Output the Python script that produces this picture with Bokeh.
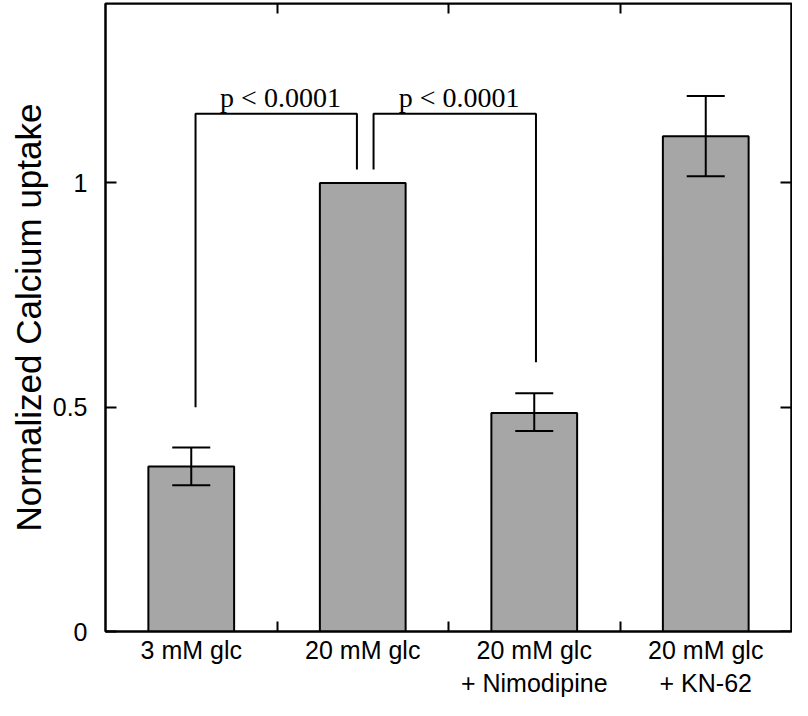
from bokeh.plotting import figure
from bokeh.models import FixedTicker, LinearAxis, Range1d, Whisker, ColumnDataSource, TeeHead
from bokeh.core.properties import value
from bokeh.embed import file_html
from bokeh.resources import INLINE

# ---- data ----
categories = ["3 mM glc", "20 mM glc", "20 mM glc\n+ Nimodipine", "20 mM glc\n+ KN-62"]
means = [0.368, 1.0, 0.487, 1.104]
err_upper = [0.410, None, 0.531, 1.194]
err_lower = [0.326, None, 0.447, 1.015]
y_ticks = [0, 0.5, 1]
y_tick_labels = ["0", "0.5", "1"]
p_labels = ["p < 0.0001", "p < 0.0001"]
bracket_pairs = [(0, 1), (1, 2)]
bracket_top = 1.154
bracket_leg_bottoms = [(0.50, 1.03), (1.03, 0.60)]
bracket_leg_offsets = [(0.025, -0.034), (0.063, 0.01)]
p_label_y = 1.19

FONT = "Liberation Sans"
xc = [i + 0.5 for i in range(len(categories))]
bounds = [1, 2, 3]
X_MAX, Y_MAX = 4, 1.4

p = figure(width=792, height=700, x_range=Range1d(0, X_MAX), y_range=Range1d(0, Y_MAX),
           output_backend="svg", toolbar_location=None,
           x_axis_location=None, y_axis_location=None,
           min_border_left=105, min_border_right=1, min_border_top=3, min_border_bottom=60)
p.grid.visible = False
p.outline_line_color = "black"
p.outline_line_width = 2
p.background_fill_color = "white"
p.border_fill_color = "white"

# bars
src = ColumnDataSource(dict(x=xc, top=means))
p.vbar(x="x", top="top", width=0.5, bottom=0, source=src,
       fill_color="#a6a6a6", line_color="black", line_width=2)

# error bars
ex = [x for x, u in zip(xc, err_upper) if u is not None]
eu = [u for u in err_upper if u is not None]
el = [l for l in err_lower if l is not None]
esrc = ColumnDataSource(dict(x=ex, upper=eu, lower=el))
w = Whisker(base="x", upper="upper", lower="lower", source=esrc, level="overlay",
            line_color="black", line_width=2,
            upper_head=TeeHead(size=38, line_color="black", line_width=2),
            lower_head=TeeHead(size=38, line_color="black", line_width=2))
p.add_layout(w)

# significance brackets
bxs, bys, tx = [], [], []
for (a, b), (ya, yb), (oa, ob) in zip(bracket_pairs, bracket_leg_bottoms, bracket_leg_offsets):
    xa, xb = xc[a] + oa, xc[b] + ob
    bxs.append([xa, xa, xb, xb])
    bys.append([ya, bracket_top, bracket_top, yb])
    tx.append((xa + xb) / 2 + 0.025)
p.multi_line(xs=bxs, ys=bys, line_color="black", line_width=2)
p.text(x=tx, y=[p_label_y] * len(tx), text=p_labels, text_font=value("Liberation Serif"),
       text_font_size="28px", text_align="center", text_baseline="alphabetic", text_color="black")

# axes
def style(ax):
    ax.axis_line_color = "black"
    ax.axis_line_width = 2
    ax.major_tick_line_color = "black"
    ax.major_tick_line_width = 2
    ax.minor_tick_line_color = "black"
    ax.minor_tick_line_width = 2
    ax.minor_tick_out = 0

bottom = LinearAxis(ticker=FixedTicker(ticks=xc, minor_ticks=bounds),
                    major_label_overrides={x: c for x, c in zip(xc, categories)})
style(bottom)
bottom.major_tick_in = 0
bottom.major_tick_out = 0
bottom.minor_tick_in = 10
bottom.major_label_standoff = 4
bottom.major_label_text_font = FONT
bottom.major_label_text_font_size = "25px"
bottom.major_label_text_color = "black"
p.add_layout(bottom, "below")

top = LinearAxis(ticker=FixedTicker(ticks=bounds), fixed_location=Y_MAX,
                 major_label_overrides={b: "" for b in bounds})
style(top)
top.major_tick_in = 10
top.major_tick_out = 0
top.major_label_standoff = 0
top.major_label_text_font_size = "1px"
p.add_layout(top, "above")

left = LinearAxis(ticker=FixedTicker(ticks=y_ticks),
                  major_label_overrides={t: s for t, s in zip(y_ticks, y_tick_labels)})
style(left)
left.major_tick_in = 11
left.major_tick_out = 0
left.major_label_standoff = 18
left.major_label_text_font = FONT
left.major_label_text_font_size = "25px"
left.major_label_text_color = "black"
left.axis_label = "Normalized Calcium uptake"
left.axis_label_text_font = FONT
left.axis_label_text_font_size = "35px"
left.axis_label_text_font_style = "normal"
left.axis_label_text_color = "black"
left.axis_label_standoff = 2
p.add_layout(left, "left")

right = LinearAxis(ticker=FixedTicker(ticks=y_ticks), fixed_location=X_MAX,
                   major_label_overrides={t: "" for t in y_ticks})
style(right)
right.major_tick_in = 11
right.major_tick_out = 0
right.major_label_standoff = 0
right.major_label_text_font_size = "1px"
p.add_layout(right, "right")

open("out.html", "w").write(file_html(p, INLINE))
